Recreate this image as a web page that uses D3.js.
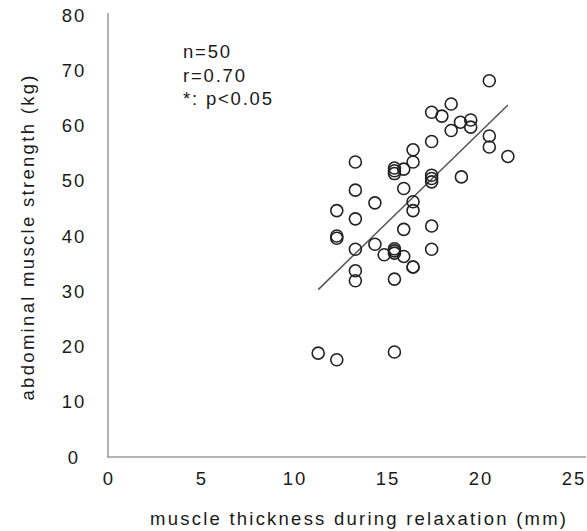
<!doctype html>
<html lang="en">
<head>
    <meta charset="utf-8">
    <title>muscle thickness vs abdominal strength</title>
    <script src="https://cdn.jsdelivr.net/npm/d3@7"></script>
    <style>
        body { margin: 0; background: #fff; }
        svg { display: block; }
        text { font-family: "Liberation Sans", Arial, sans-serif; fill: #1a1a1a; }
    </style>
</head>
<body>
    <svg></svg>
    <script>
        var width = 587;
        var height = 531;

        // muscle thickness (mm)
        var thickness = [20.5, 18.45, 17.4, 17.95, 18.95, 19.5, 19.5, 18.45, 20.5, 20.5,
                         21.5, 17.4, 16.4, 16.4, 13.3, 15.9, 15.4, 15.4, 15.4, 17.4,
                         17.4, 17.4, 19.0, 13.3, 15.9, 14.35, 16.4, 16.4, 12.3, 13.3,
                         15.9, 17.4, 12.3, 12.3, 13.3, 14.35, 14.85, 15.4, 15.4, 15.4,
                         15.9, 16.4, 17.4, 13.3, 13.3, 15.4, 11.3, 12.3, 15.4, 16.4];
        // abdominal muscle strength (kg)
        var strength = [68.1, 63.9, 62.4, 61.7, 60.6, 61.0, 59.7, 59.1, 58.1, 56.1,
                        54.4, 57.1, 55.6, 53.4, 53.4, 52.1, 52.3, 51.8, 51.3, 51.0,
                        50.4, 49.8, 50.7, 48.3, 48.6, 46.0, 46.2, 44.6, 44.6, 43.1,
                        41.2, 41.8, 40.0, 39.6, 37.6, 38.5, 36.6, 37.7, 37.3, 36.9,
                        36.3, 34.4, 37.6, 33.7, 31.9, 32.2, 18.8, 17.6, 19.0, 34.4];
        // regression line end points
        var trendX = [11.3, 21.5];
        var trendY = [30.3, 63.7];

        var xTicks = [0, 5, 10, 15, 20, 25];
        var yTicks = [0, 10, 20, 30, 40, 50, 60, 70, 80];
        var notes = ["n=50", "r=0.70", "*: p<0.05"];

        var svg = d3.select('svg').attr("width", width).attr("height", height);

        var xScale = d3.scaleLinear().domain([0, 25]).range([108, 573]);
        var yScale = d3.scaleLinear().domain([0, 80]).range([457, 15]);

        // axis lines
        svg.append("line")
            .attr("x1", 108).attr("x2", 108)
            .attr("y1", 13).attr("y2", yScale(0))
            .attr("stroke", "#9a9a9a").attr("stroke-width", 1.5);
        svg.append("line")
            .attr("x1", 107).attr("x2", 586)
            .attr("y1", yScale(0)).attr("y2", yScale(0))
            .attr("stroke", "#9a9a9a").attr("stroke-width", 1.5);

        // tick labels
        svg.selectAll(".xt")
            .data(xTicks)
            .enter()
            .append("text")
            .attr("class", "xt")
            .attr("x", function (d) { return xScale(d) + 1; })
            .attr("y", 485)
            .attr("text-anchor", "middle")
            .attr("font-size", "18.5px")
            .attr("letter-spacing", "2px")
            .text(function (d) { return d; });

        svg.selectAll(".yt")
            .data(yTicks)
            .enter()
            .append("text")
            .attr("class", "yt")
            .attr("x", 74)
            .attr("y", function (d) { return yScale(d) + 6.5; })
            .attr("text-anchor", "middle")
            .attr("font-size", "18.5px")
            .attr("letter-spacing", "2px")
            .text(function (d) { return d; });

        // axis titles
        svg.append("text")
            .attr("x", 358)
            .attr("y", 525)
            .attr("text-anchor", "middle")
            .attr("font-size", "18.5px")
            .attr("textLength", 416)
            .attr("lengthAdjust", "spacing")
            .text("muscle thickness during relaxation (mm)");

        svg.append("text")
            .attr("transform", "translate(34,238) rotate(-90)")
            .attr("text-anchor", "middle")
            .attr("font-size", "18.5px")
            .attr("textLength", 325)
            .attr("lengthAdjust", "spacing")
            .text("abdominal muscle strength (kg)");

        // stats box
        svg.selectAll(".note")
            .data(notes)
            .enter()
            .append("text")
            .attr("class", "note")
            .attr("x", 183)
            .attr("y", function (d, i) { return 58 + i * 23.5; })
            .attr("font-size", "18.5px")
            .attr("letter-spacing", "1.8px")
            .text(function (d) { return d; });

        // regression line
        svg.append("line")
            .attr("x1", xScale(trendX[0])).attr("y1", yScale(trendY[0]))
            .attr("x2", xScale(trendX[1])).attr("y2", yScale(trendY[1]))
            .attr("stroke", "#555").attr("stroke-width", 1.5);

        // points
        svg.selectAll("circle")
            .data(d3.range(thickness.length))
            .enter()
            .append("circle")
            .attr("cx", function (i) { return xScale(thickness[i]); })
            .attr("cy", function (i) { return yScale(strength[i]); })
            .attr("r", 6)
            .attr("fill", "none")
            .attr("stroke", "#222")
            .attr("stroke-width", 1.6);
    </script>
</body>
</html>
